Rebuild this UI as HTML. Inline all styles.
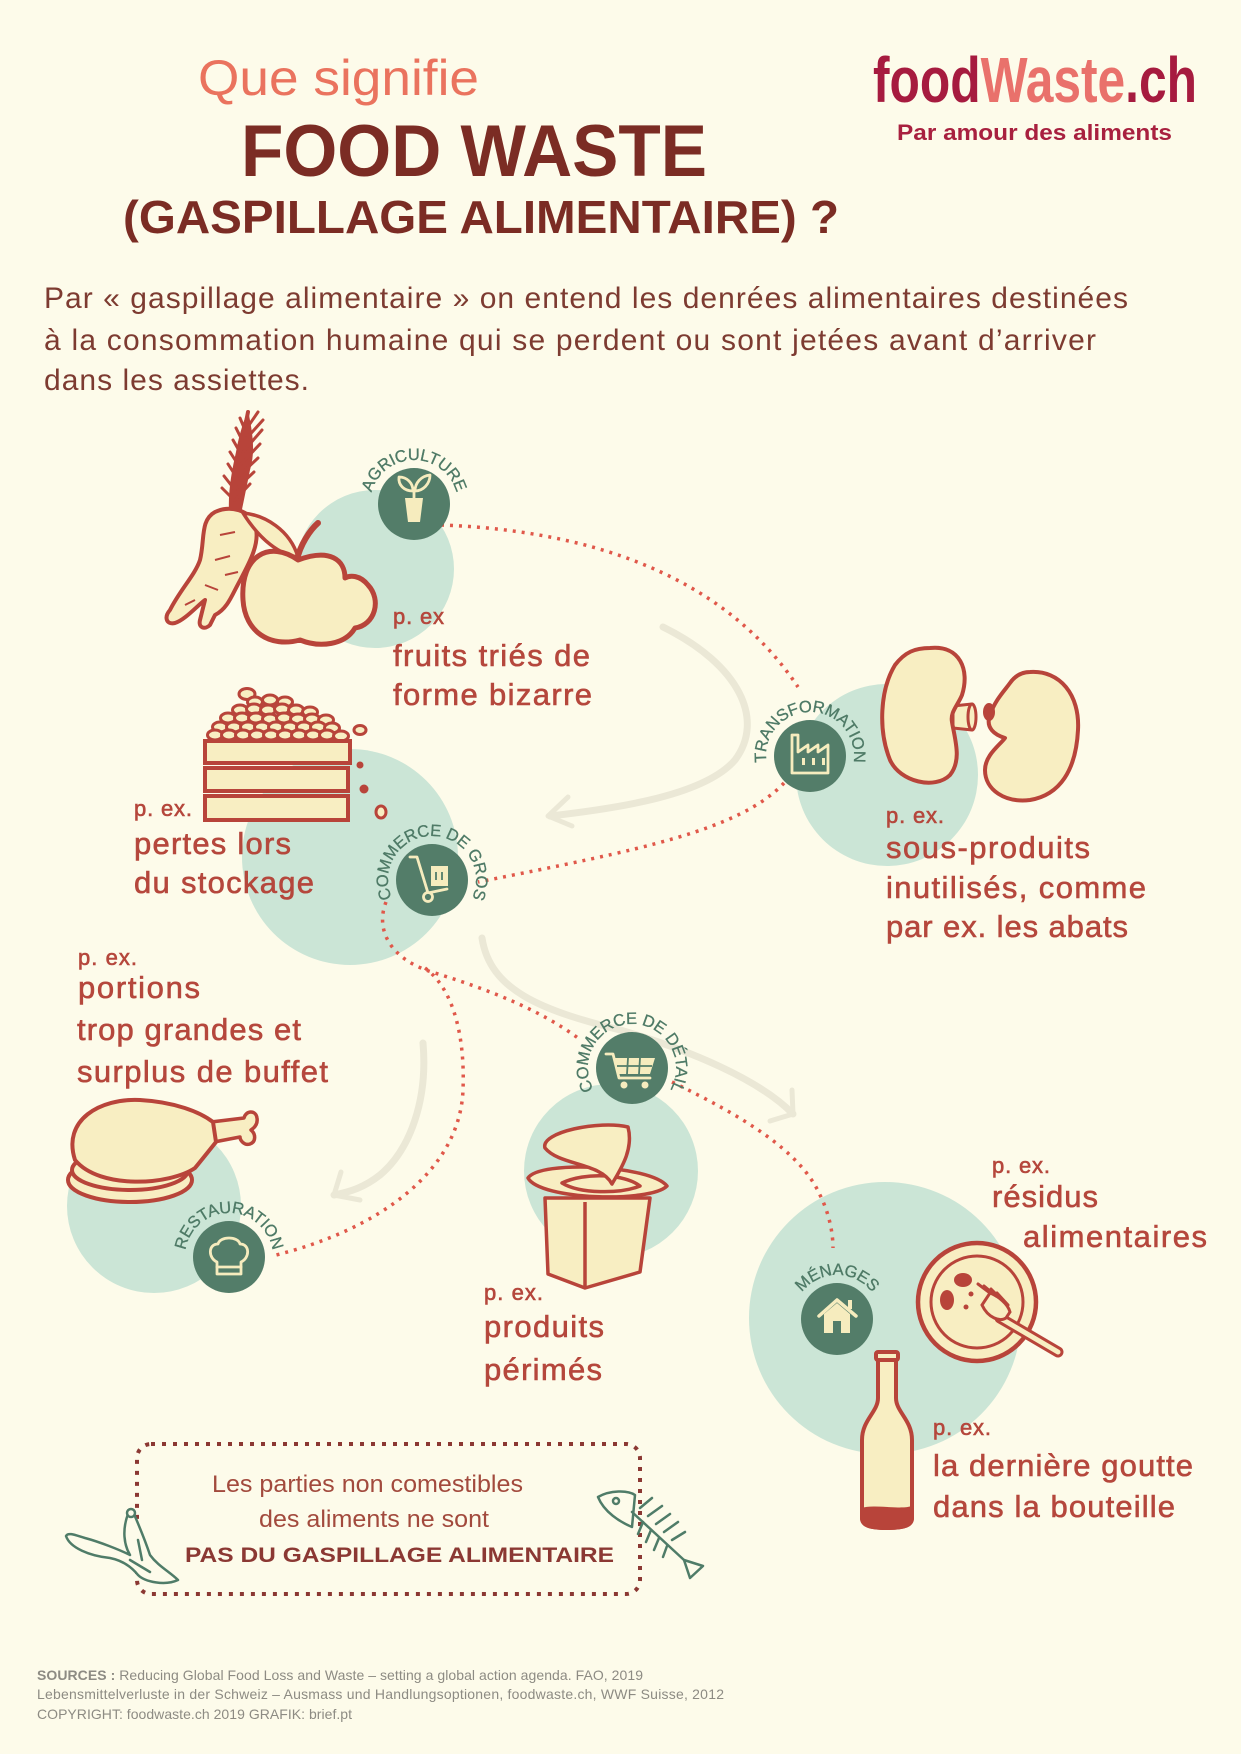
<!DOCTYPE html>
<html><head><meta charset="utf-8"><style>
html,body{margin:0;padding:0;background:#fdfbea;}
body{width:1241px;height:1754px;overflow:hidden;}
svg{display:block;font-family:"Liberation Sans",sans-serif;}
</style></head><body>
<svg width="1241" height="1754" viewBox="0 0 1241 1754" xmlns="http://www.w3.org/2000/svg">
<rect width="1241" height="1754" fill="#fdfbea"/>
<defs>
<path id="pa" d="M414 548 A44 44 0 0 1 414 460 A44 44 0 0 1 414 548"/>
<path id="pt" d="M810 800 A44 44 0 0 1 810 712 A44 44 0 0 1 810 800"/>
<path id="pg" d="M432 924 A44 44 0 0 1 432 836 A44 44 0 0 1 432 924"/>
<path id="pd" d="M632 1112 A44 44 0 0 1 632 1024 A44 44 0 0 1 632 1112"/>
<path id="pr" d="M229 1301 A44 44 0 0 1 229 1213 A44 44 0 0 1 229 1301"/>
<path id="pm" d="M837 1363 A44 44 0 0 1 837 1275 A44 44 0 0 1 837 1363"/>
</defs>

<!-- Header -->
<text x="198" y="95" font-size="50" fill="#ea735e" textLength="281" lengthAdjust="spacingAndGlyphs">Que signifie</text>
<text x="241" y="176" font-size="73" font-weight="bold" fill="#7b2c24" textLength="466" lengthAdjust="spacingAndGlyphs">FOOD WASTE</text>
<text x="123" y="233" font-size="46" font-weight="bold" fill="#7b2c24" textLength="716" lengthAdjust="spacingAndGlyphs">(GASPILLAGE ALIMENTAIRE) ?</text>

<text x="873" y="102" font-size="64" font-weight="bold" textLength="324" lengthAdjust="spacingAndGlyphs"><tspan fill="#a61b3f">food</tspan><tspan fill="#e9716b">Waste</tspan><tspan fill="#a61b3f">.ch</tspan></text>
<text x="897" y="140" font-size="22" font-weight="bold" fill="#a8203f" textLength="275" lengthAdjust="spacingAndGlyphs">Par amour des aliments</text>

<g font-size="30" fill="#7d3b31">
<text x="44" y="308" textLength="1084">Par « gaspillage alimentaire » on entend les denrées alimentaires destinées</text>
<text x="44" y="350" textLength="1052">à la consommation humaine qui se perdent ou sont jetées avant d’arriver</text>
<text x="44" y="390" textLength="265">dans les assiettes.</text>
</g>

<!-- Mint circles -->
<g fill="#cbe5d6">
<circle cx="375" cy="569" r="79"/>
<circle cx="887" cy="775" r="91"/>
<circle cx="350" cy="857" r="108"/>
<circle cx="154" cy="1206" r="87"/>
<circle cx="611" cy="1171" r="87"/>
<circle cx="885" cy="1318" r="136"/>
</g>

<!-- Grey arrows -->
<g stroke="#ebe8d6" fill="none" stroke-linecap="round" stroke-linejoin="round">
<path d="M663 627 C740 665 765 720 735 760 C705 795 620 808 550 816" stroke-width="7"/>
<path d="M568 797 L548 816 L572 826" stroke-width="5"/>
<path d="M482 938 C490 990 540 1010 620 1030 C690 1050 760 1080 793 1114" stroke-width="7"/>
<path d="M792 1090 L793 1114 L770 1121" stroke-width="5"/>
<path d="M423 1043 C428 1100 410 1150 380 1175 C365 1187 350 1192 334 1195" stroke-width="7"/>
<path d="M341 1172 L334 1195 L360 1200" stroke-width="5"/>
</g>

<!-- Dotted connectors -->
<g stroke="#e0584a" stroke-width="3.5" stroke-dasharray="3 6" fill="none">
<path d="M441 525 C580 530 720 570 798 687"/>
<path d="M784 783 C740 830 640 850 478 882"/>
<path d="M386 902 C375 930 390 960 435 973 C490 990 540 1010 578 1038"/>
<path d="M425 968 C455 990 465 1040 463 1090 C460 1170 380 1230 272 1256"/>
<path d="M672 1082 C740 1115 800 1150 820 1195 C830 1215 833 1235 833 1248"/>
</g>

<!-- Carrot -->
<path d="M229 512 C228 490 232 470 236 452 C238 440 242 425 248 410 C252 430 256 450 250 470 C247 485 244 500 241 514 Z" fill="#b8443a"/>
<g stroke="#b8443a" stroke-linecap="round" fill="none">
<path d="M232 512 C236 480 240 450 248 412" stroke-width="4"/>
<path d="M234 500 L222 488 M235 490 L224 476 M237 478 L228 464 M239 466 L230 452 M241 454 L233 440 M243 442 L236 428 M245 430 L240 418" stroke-width="3"/>
<path d="M235 500 L250 484 M237 488 L254 472 M239 476 L258 458 M241 464 L260 444 M243 452 L262 430 M245 440 L263 420 M247 428 L258 412" stroke-width="3"/>
</g>
<g stroke="#b8443a" stroke-linejoin="round">
<path d="M215 512 C230 505 250 510 255 525 C262 545 245 570 235 590 C230 600 225 610 215 615 L210 625 C205 630 198 628 200 620 L205 600 C198 605 185 620 175 623 C166 625 164 617 170 610 C180 590 195 575 200 560 C205 540 200 520 215 512 Z" fill="#f8eec2" stroke-width="4"/>
<path d="M220 535 L235 532 M215 560 L230 556 M205 585 L218 590 M225 575 L238 572 M185 605 L195 600" stroke-width="2" fill="none"/>
</g>
<!-- Apple -->
<g stroke="#b8443a" stroke-linejoin="round">
<path d="M243 513 C265 515 290 530 298 557 C280 555 260 540 243 513 Z" fill="#f8eec2" stroke-width="3.5"/>
<path d="M297 560 C300 545 310 530 318 523" stroke-width="6" fill="none" stroke-linecap="round"/>
<path d="M298 560 C270 540 240 555 243 600 C245 632 270 648 300 640 C320 648 345 645 355 628 C375 625 382 600 368 585 C360 575 350 575 345 578 C345 560 330 548 298 560 Z" fill="#f8eec2" stroke-width="5"/>
</g>

<!-- Crate with beans -->
<g stroke="#b8443a" fill="#f8eec2" stroke-width="3">
<ellipse cx="247" cy="694" rx="8" ry="5.5"/>
<ellipse cx="255" cy="702" rx="7.5" ry="5"/><ellipse cx="270" cy="700" rx="7.5" ry="5"/><ellipse cx="285" cy="702" rx="7.5" ry="5"/>
<ellipse cx="240" cy="710" rx="7.5" ry="5"/><ellipse cx="254" cy="709" rx="7.5" ry="5"/><ellipse cx="268" cy="710" rx="7.5" ry="5"/><ellipse cx="282" cy="709" rx="7.5" ry="5"/><ellipse cx="296" cy="710" rx="7.5" ry="5"/><ellipse cx="310" cy="712" rx="7.5" ry="5"/>
<ellipse cx="228" cy="718" rx="7.5" ry="5"/><ellipse cx="242" cy="718" rx="7.5" ry="5"/><ellipse cx="256" cy="718" rx="7.5" ry="5"/><ellipse cx="270" cy="719" rx="7.5" ry="5"/><ellipse cx="284" cy="718" rx="7.5" ry="5"/><ellipse cx="298" cy="719" rx="7.5" ry="5"/><ellipse cx="312" cy="719" rx="7.5" ry="5"/><ellipse cx="326" cy="720" rx="7.5" ry="5"/>
<ellipse cx="220" cy="727" rx="7.5" ry="5"/><ellipse cx="234" cy="727" rx="7.5" ry="5"/><ellipse cx="248" cy="727" rx="7.5" ry="5"/><ellipse cx="262" cy="727" rx="7.5" ry="5"/><ellipse cx="276" cy="727" rx="7.5" ry="5"/><ellipse cx="290" cy="727" rx="7.5" ry="5"/><ellipse cx="304" cy="727" rx="7.5" ry="5"/><ellipse cx="318" cy="727" rx="7.5" ry="5"/><ellipse cx="332" cy="728" rx="7.5" ry="5"/>
<ellipse cx="215" cy="735" rx="7.5" ry="5"/><ellipse cx="229" cy="735" rx="7.5" ry="5"/><ellipse cx="243" cy="735" rx="7.5" ry="5"/><ellipse cx="257" cy="735" rx="7.5" ry="5"/><ellipse cx="271" cy="735" rx="7.5" ry="5"/><ellipse cx="285" cy="735" rx="7.5" ry="5"/><ellipse cx="299" cy="735" rx="7.5" ry="5"/><ellipse cx="313" cy="735" rx="7.5" ry="5"/><ellipse cx="327" cy="735" rx="7.5" ry="5"/><ellipse cx="341" cy="736" rx="7.5" ry="5"/>
<ellipse cx="360" cy="730" rx="6" ry="4.5"/>
<ellipse cx="381" cy="812" rx="5" ry="6"/>
</g>
<g stroke="#b8443a" fill="#f8eec2" stroke-width="4">
<rect x="205" y="741" width="145" height="22"/>
<rect x="205" y="768" width="143" height="23"/>
<rect x="205" y="796" width="143" height="24"/>
</g>
<g fill="#b8443a">
<circle cx="360" cy="765" r="3.5"/><circle cx="364" cy="789" r="4.5"/>
</g>

<!-- Kidneys -->
<g stroke="#b8443a" fill="#f8eec2" stroke-width="4" stroke-linejoin="round">
<path d="M953 706 L972 704 L972 730 L953 728 Z" stroke-width="3"/>
<ellipse cx="972" cy="717" rx="4" ry="13" stroke-width="3"/>
<path d="M930 648 C960 645 970 670 962 695 C958 705 950 712 952 722 C955 740 962 760 950 775 C935 790 900 782 890 760 C878 730 880 690 895 665 C905 652 915 648 930 648 Z"/>
<path d="M1030 672 C1060 670 1080 695 1078 730 C1076 770 1060 795 1030 800 C1005 803 985 790 985 770 C985 755 1000 745 1005 738 C995 735 985 728 990 715 C995 700 1005 690 1010 683 C1015 676 1022 672 1030 672 Z"/>
</g>
<ellipse cx="989" cy="712" rx="6" ry="9" fill="#b8443a"/>

<!-- Chicken drumstick -->
<g stroke="#b8443a" fill="#f8eec2" stroke-width="4" stroke-linejoin="round">
<ellipse cx="130" cy="1180" rx="62" ry="22"/>
<ellipse cx="130" cy="1170" rx="58" ry="20"/>
<path d="M211 1122 L244 1118 C246 1110 256 1110 257 1118 C258 1124 254 1128 251 1130 C256 1134 256 1142 250 1144 C244 1146 240 1140 240 1137 L214 1142 Z" stroke-width="3.5"/>
<path d="M75 1160 C62 1120 100 1098 140 1100 C175 1102 200 1112 213 1122 L216 1142 C208 1152 200 1162 195 1168 C170 1185 100 1190 75 1160 Z"/>
</g>

<!-- Yogurt cup -->
<g stroke="#b8443a" fill="#f8eec2" stroke-width="3.5" stroke-linejoin="round">
<path d="M545 1198 L650 1198 L640 1272 L585 1288 L548 1274 Z"/>
<path d="M585 1202 L585 1288" fill="none"/>
<path d="M528 1178 C540 1160 650 1165 667 1186 C650 1203 540 1200 528 1178 Z"/>
<path d="M562 1183 C585 1172 625 1174 640 1186 C620 1194 580 1194 562 1183 Z"/>
<path d="M612 1184 C600 1162 560 1166 545 1148 C540 1132 600 1120 628 1127 C634 1150 620 1170 612 1184 Z"/>
</g>

<!-- Plate and fork -->
<g stroke="#b8443a" stroke-linejoin="round">
<circle cx="977" cy="1302" r="59" fill="#f8eec2" stroke-width="4.5"/>
<circle cx="977" cy="1302" r="46" fill="none" stroke-width="3"/>
</g>
<g fill="#b8443a">
<ellipse cx="963" cy="1280" rx="9" ry="7"/>
<ellipse cx="947" cy="1300" rx="7" ry="10"/>
<circle cx="971" cy="1294" r="2.5"/><circle cx="966" cy="1307" r="2.5"/>
</g>
<g stroke-linecap="round" fill="none">
<path d="M1000 1318 L1058 1352" stroke="#b8443a" stroke-width="11"/>
<path d="M1000 1318 L1058 1352" stroke="#f8eec2" stroke-width="5"/>
<path d="M982 1305 C988 1318 1000 1322 1006 1318 L1010 1312 C1008 1304 998 1296 990 1293 Z" stroke="#b8443a" stroke-width="3" fill="#f8eec2"/>
<path d="M990 1293 L978 1284 M996 1296 L984 1286 M1002 1300 L991 1289 M1008 1305 L997 1293" stroke="#b8443a" stroke-width="3"/>
</g>

<!-- Bottle -->
<g stroke="#b8443a" stroke-width="4" stroke-linejoin="round">
<path d="M878 1354 L896 1354 L896 1398 C896 1412 912 1420 912 1440 L912 1518 C912 1525 905 1528 887 1528 C869 1528 862 1525 862 1518 L862 1440 C862 1420 878 1412 878 1398 Z" fill="#f8eec2"/>
<path d="M862 1510 C875 1506 900 1512 912 1508 L912 1518 C912 1525 905 1528 887 1528 C869 1528 862 1525 862 1518 Z" fill="#b8443a"/>
<rect x="876" y="1352" width="22" height="8" rx="2" fill="#f8eec2"/>
</g>

<!-- Icons -->
<g fill="#537d69">
<circle cx="414" cy="504" r="36"/>
<circle cx="810" cy="756" r="36"/>
<circle cx="432" cy="880" r="36"/>
<circle cx="632" cy="1068" r="36"/>
<circle cx="229" cy="1257" r="36"/>
<circle cx="837" cy="1319" r="36"/>
</g>
<g stroke="#f6ecbe" fill="none" stroke-width="2.8" stroke-linejoin="round" stroke-linecap="round">
<path d="M414 498 L414 490"/>
<path d="M413 491 C404 491 398 485 399 477 C407 477 413 483 413 491 Z"/>
<path d="M415 491 C415 483 421 476 430 475 C430 484 423 491 415 491 Z"/>
<path d="M792 773 L792 735 L798 735 L798 752 L808 745 L808 752 L818 745 L818 752 L828 745 L828 773 Z"/>
<path d="M410 857 L417 857 L428 893 L447 889"/>
<circle cx="428" cy="897" r="4.5" fill="#537d69"/>
<path d="M606 1054 L613 1054 L619 1078 L650 1078"/>
<path d="M217 1262 C208 1258 208 1244 218 1244 C220 1236 238 1236 240 1244 C250 1244 250 1258 241 1262 L241 1274 L217 1274 Z"/>
<path d="M217 1267 L241 1267"/>
<path d="M819 1316 L837 1300 L856 1316" stroke-width="3.5"/>
</g>
<g fill="#f6ecbe">
<path d="M405 498 L423 498 L420 522 L408 522 Z"/>
<rect x="802" y="758" width="3" height="7"/><rect x="812" y="758" width="3" height="7"/><rect x="822" y="758" width="3" height="7"/>
<rect x="431" y="866" width="17" height="20"/>
<path d="M615 1058 L655 1058 L650 1074 L619 1074 Z"/>
<circle cx="624" cy="1085" r="3.5"/><circle cx="645" cy="1085" r="3.5"/>
<path d="M824 1314 L837 1303 L850 1314 L850 1333 L824 1333 Z"/>
<rect x="848" y="1300" width="4" height="9"/>
</g>
<g stroke="#537d69" stroke-width="1.8" fill="none">
<path d="M628 1058 L627 1074 M640 1058 L639 1074 M617 1066 L652 1066"/>
<path d="M436 872 L436 880 M442 872 L442 880"/>
</g>
<rect x="833" y="1321" width="8" height="12" fill="#537d69"/>

<!-- Curved labels -->
<g font-size="16.5" fill="#4e7a66" stroke="#4e7a66" stroke-width="0.3" letter-spacing="-0.2">
<text><textPath href="#pa" startOffset="50%" text-anchor="middle">AGRICULTURE</textPath></text>
<text><textPath href="#pt" startOffset="50%" text-anchor="middle">TRANSFORMATION</textPath></text>
<text><textPath href="#pg" startOffset="50%" text-anchor="middle">COMMERCE DE GROS</textPath></text>
<text><textPath href="#pd" startOffset="50%" text-anchor="middle">COMMERCE DE DÉTAIL</textPath></text>
<text><textPath href="#pr" startOffset="50%" text-anchor="middle">RESTAURATION</textPath></text>
<text><textPath href="#pm" startOffset="50%" text-anchor="middle">MÉNAGES</textPath></text>
</g>

<!-- Example labels -->
<g fill="#b5473c" stroke="#b5473c" stroke-width="0.6">
<g font-size="22">
<text x="393" y="624" textLength="51">p. ex</text>
<text x="134" y="816" textLength="58">p. ex.</text>
<text x="886" y="823" textLength="58">p. ex.</text>
<text x="78" y="965" textLength="59">p. ex.</text>
<text x="484" y="1300" textLength="59">p. ex.</text>
<text x="992" y="1173" textLength="58">p. ex.</text>
<text x="933" y="1435" textLength="58">p. ex.</text>
</g>
<g font-size="31">
<text x="393" y="666" textLength="197">fruits triés de</text>
<text x="393" y="705" textLength="199">forme bizarre</text>
<text x="134" y="854" textLength="157">pertes lors</text>
<text x="134" y="893" textLength="180">du stockage</text>
<text x="886" y="858" textLength="204">sous-produits</text>
<text x="886" y="898" textLength="260">inutilisés, comme</text>
<text x="886" y="937" textLength="242">par ex. les abats</text>
<text x="78" y="998" textLength="122">portions</text>
<text x="77" y="1040" textLength="224">trop grandes et</text>
<text x="77" y="1082" textLength="251">surplus de buffet</text>
<text x="484" y="1337" textLength="120">produits</text>
<text x="484" y="1380" textLength="118">périmés</text>
<text x="992" y="1207" textLength="106">résidus</text>
<text x="1023" y="1247" textLength="184">alimentaires</text>
<text x="933" y="1476" textLength="260">la dernière goutte</text>
<text x="933" y="1517" textLength="242">dans la bouteille</text>
</g>
</g>

<!-- Bottom box -->
<rect x="137" y="1444" width="503" height="150" rx="14" fill="none" stroke="#8b3833" stroke-width="4" stroke-dasharray="4 7"/>
<g font-size="24" fill="#a24a3d">
<text x="212" y="1492" textLength="311" lengthAdjust="spacingAndGlyphs">Les parties non comestibles</text>
<text x="259" y="1527" textLength="230" lengthAdjust="spacingAndGlyphs">des aliments ne sont</text>
</g>
<text x="185" y="1562" font-size="21" font-weight="bold" fill="#8b3833" textLength="429" lengthAdjust="spacingAndGlyphs">PAS DU GASPILLAGE ALIMENTAIRE</text>

<!-- Banana peel -->
<g stroke="#4f7c68" stroke-width="2.5" fill="#fdfbea" stroke-linejoin="round" stroke-linecap="round">
<path d="M128 1514 C122 1530 124 1545 130 1555 C120 1550 100 1542 85 1538 C75 1535 68 1532 66 1536 C70 1548 90 1556 110 1558 C120 1560 130 1565 138 1575 C145 1582 165 1586 178 1580 C170 1572 158 1566 150 1555 C145 1540 140 1528 134 1514 Z"/>
<circle cx="131" cy="1513" r="4" fill="#fdfbea"/>
<path d="M138 1540 L142 1560 M130 1560 L150 1572"/>
</g>

<!-- Fish skeleton -->
<g stroke="#4f7c68" stroke-width="2.5" fill="none" stroke-linejoin="round" stroke-linecap="round">
<path d="M598 1497 C610 1490 628 1490 635 1495 L632 1527 C620 1522 604 1512 598 1497 Z"/>
<circle cx="616" cy="1501" r="3"/>
<path d="M632 1512 L684 1560"/>
<path d="M684 1560 L703 1566 L690 1578 Z"/>
<path d="M640 1508 L652 1498 M648 1516 L662 1506 M656 1524 L670 1514 M664 1532 L678 1522 M672 1540 L685 1532 M643 1522 L638 1534 M651 1530 L646 1542 M659 1538 L654 1550 M667 1546 L663 1557"/>
</g>

<!-- Footer -->
<g font-size="14" fill="#8d8b83">
<text x="37" y="1680" textLength="606"><tspan font-weight="bold">SOURCES :</tspan> Reducing Global Food Loss and Waste – setting a global action agenda. FAO, 2019</text>
<text x="37" y="1699" textLength="687">Lebensmittelverluste in der Schweiz – Ausmass und Handlungsoptionen, foodwaste.ch, WWF Suisse, 2012</text>
<text x="37" y="1719" textLength="315">COPYRIGHT: foodwaste.ch 2019 GRAFIK: brief.pt</text>
</g>
</svg>
</body></html>
